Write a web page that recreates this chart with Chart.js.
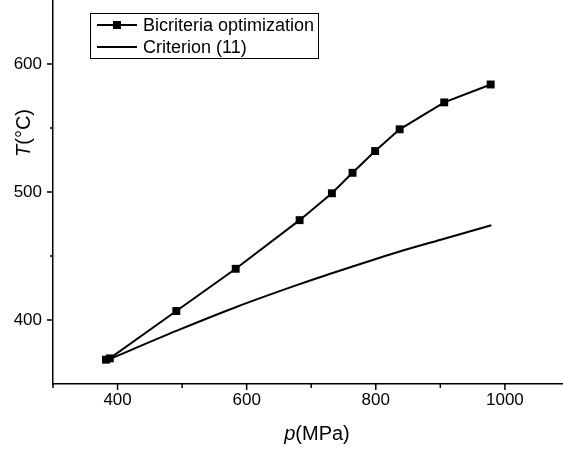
<!DOCTYPE html>
<html>
<head>
<meta charset="utf-8">
<script src="https://cdn.jsdelivr.net/npm/chart.js@4.4.0/dist/chart.umd.min.js"></script>
<style>
html, body { margin: 0; padding: 0; background: #fff; overflow: hidden; }
</style>
</head>
<body>
<canvas id="chart" width="563" height="451"></canvas>
<script>
// values
const pressure = [382, 388, 491, 583, 682, 732, 764, 799, 837, 906, 978];
const tempBicriteria = [369, 370, 407, 440, 478, 499, 515, 532, 549, 570, 584];
const pressureCrit = [388, 491, 583, 682, 732, 764, 799, 837, 906, 979];
const tempCriterion = [369.5, 391.5, 410, 428, 436.5, 441.8, 447.5, 453.5, 463.5, 474];
const seriesNames = ['Bicriteria optimization', 'Criterion (11)'];
const xTickLabels = [400, 600, 800, 1000];
const yTickLabels = [400, 500, 600];
const xTickValues = [300, 400, 500, 600, 700, 800, 900, 1000];
const yTickValues = [350, 400, 450, 500, 550, 600];

const FONT = '"Liberation Sans", Arial, sans-serif';

function toPoints(xs, ys) {
  return xs.map((x, i) => ({ x: x, y: ys[i] }));
}

// tick marks: long ones at labelled values, short ones in between
const tickMarks = {
  id: 'tickMarks',
  afterDraw(chart) {
    const ctx = chart.ctx;
    const xs = chart.scales.x, ys = chart.scales.y;
    const area = chart.chartArea;
    ctx.save();
    ctx.strokeStyle = '#000';
    ctx.lineWidth = 1.5;
    ctx.beginPath();
    xs.ticks.forEach(t => {
      const px = xs.getPixelForValue(t.value);
      const len = xTickLabels.includes(t.value) ? 6 : 4;
      ctx.moveTo(px, area.bottom);
      ctx.lineTo(px, area.bottom + len);
    });
    ys.ticks.forEach(t => {
      if (t.value <= 350) return;
      const py = ys.getPixelForValue(t.value);
      const len = yTickLabels.includes(t.value) ? 6 : 3;
      ctx.moveTo(area.left, py);
      ctx.lineTo(area.left - len, py);
    });
    ctx.stroke();
    ctx.restore();
  }
};

// axis titles with italic variable names
const axisTitles = {
  id: 'axisTitles',
  afterDraw(chart) {
    const ctx = chart.ctx;
    ctx.save();
    ctx.fillStyle = '#000';
    ctx.textBaseline = 'middle';

    function drawMixed(parts, cx, cy, rot) {
      let total = 0;
      parts.forEach(p => { ctx.font = p[1] + ' 20px ' + FONT; p.w = ctx.measureText(p[0]).width; total += p.w; });
      ctx.save();
      ctx.translate(cx, cy);
      ctx.rotate(rot);
      let x = -total / 2;
      parts.forEach(p => {
        ctx.font = p[1] + ' 20px ' + FONT;
        ctx.textAlign = 'left';
        ctx.fillText(p[0], x, 0);
        x += p.w;
      });
      ctx.restore();
    }
    drawMixed([['p', 'italic'], ['(MPa)', 'normal']], 317, 434, 0);
    drawMixed([['T', 'italic'], ['(\u00B0C)', 'normal']], 24, 133, -Math.PI / 2);
    ctx.restore();
  }
};

// boxed legend in the upper left
const boxLegend = {
  id: 'boxLegend',
  afterDraw(chart) {
    const ctx = chart.ctx;
    ctx.save();
    ctx.strokeStyle = '#000';
    ctx.lineWidth = 1;
    ctx.strokeRect(90.5, 13.5, 228, 45);
    const rows = [25, 47];
    chart.data.datasets.forEach((ds, i) => {
      const y = rows[i];
      ctx.strokeStyle = ds.borderColor;
      ctx.lineWidth = 2;
      ctx.beginPath();
      ctx.moveTo(97, y);
      ctx.lineTo(137, y);
      ctx.stroke();
      if (ds.pointRadius > 0) {
        ctx.fillStyle = '#000';
        ctx.fillRect(113, y - 4, 8, 8);
      }
      ctx.fillStyle = '#000';
      ctx.font = '18px ' + FONT;
      ctx.textAlign = 'left';
      ctx.textBaseline = 'middle';
      ctx.fillText(ds.label, 143, y + 1);
    });
    ctx.restore();
  }
};

new Chart(document.getElementById('chart'), {
  type: 'scatter',
  data: {
    datasets: [
      {
        label: seriesNames[0],
        data: toPoints(pressure, tempBicriteria),
        showLine: true,
        borderColor: '#000',
        backgroundColor: '#000',
        borderWidth: 2,
        pointStyle: 'rect',
        pointRadius: 5.6,
        pointBorderWidth: 0,
        tension: 0
      },
      {
        label: seriesNames[1],
        data: toPoints(pressureCrit, tempCriterion),
        showLine: true,
        borderColor: '#000',
        backgroundColor: '#000',
        borderWidth: 2,
        pointRadius: 0,
        cubicInterpolationMode: 'monotone'
      }
    ]
  },
  options: {
    responsive: false,
    animation: false,
    layout: { padding: 0, autoPadding: false },
    plugins: {
      legend: { display: false },
      tooltip: { enabled: false }
    },
    scales: {
      x: {
        type: 'linear',
        min: 300,
        max: 1090,
        afterBuildTicks: s => { s.ticks = xTickValues.map(v => ({ value: v })); },
        afterFit: s => { s.height = 67; s.paddingLeft = 0; s.paddingRight = 0; },
        grid: { display: true, drawOnChartArea: false, drawTicks: false },
        border: { display: true, color: '#000', width: 1.5 },
        ticks: {
          padding: 6,
          color: '#000',
          font: { family: FONT, size: 17 },
          maxRotation: 0,
          autoSkip: false,
          callback: v => xTickLabels.includes(v) ? String(v) : ''
        }
      },
      y: {
        type: 'linear',
        min: 350,
        max: 650,
        afterBuildTicks: s => { s.ticks = yTickValues.map(v => ({ value: v })); },
        afterFit: s => { s.width = 53; s.paddingTop = 0; s.paddingBottom = 0; },
        grid: { display: true, drawOnChartArea: false, drawTicks: false },
        border: { display: true, color: '#000', width: 1.5 },
        ticks: {
          padding: 11,
          color: '#000',
          font: { family: FONT, size: 17 },
          autoSkip: false,
          callback: v => yTickLabels.includes(v) ? String(v) : ''
        }
      }
    }
  },
  plugins: [tickMarks, axisTitles, boxLegend]
});
</script>
</body>
</html>
